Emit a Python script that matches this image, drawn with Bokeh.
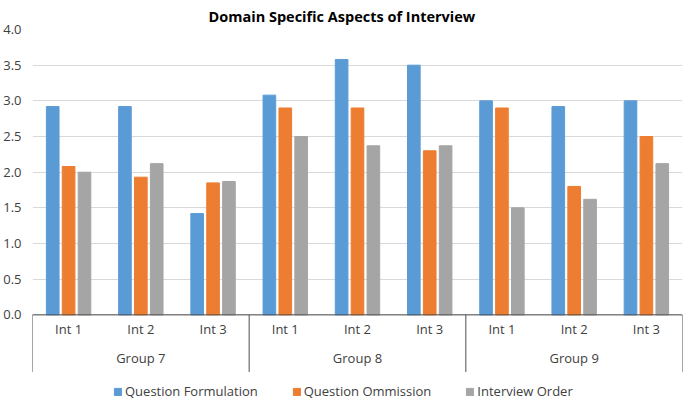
from bokeh.plotting import figure
from bokeh.models import (ColumnDataSource, FactorRange, Range1d, FixedTicker, Legend,
                          LegendItem, NumeralTickFormatter)
from bokeh.transform import dodge
from bokeh.core.properties import value
from bokeh.embed import file_html
from bokeh.resources import INLINE

# ---- data ----
groups = ["Group 7", "Group 8", "Group 9"]
interviews = ["Int 1", "Int 2", "Int 3"]
question_formulation = [2.92, 2.92, 1.42, 3.08, 3.58, 3.50, 3.00, 2.92, 3.00]
question_ommission = [2.08, 1.93, 1.85, 2.90, 2.90, 2.30, 2.90, 1.80, 2.50]
interview_order = [2.00, 2.12, 1.87, 2.50, 2.37, 2.37, 1.50, 1.62, 2.12]
y_ticks = [0.0, 0.5, 1.0, 1.5, 2.0, 2.5, 3.0, 3.5, 4.0]
series_names = ["Question Formulation", "Question Ommission", "Interview Order"]
colors = ["#5B9BD5", "#ED7D31", "#A5A5A5"]

FONT = "Open Sans"

factors = [(g, i) for g in groups for i in interviews]
source = ColumnDataSource(dict(
    x=factors,
    qf=question_formulation,
    qo=question_ommission,
    io=interview_order,
    int_label=[f[1] for f in factors],
))

x_range = FactorRange(*factors, group_padding=0, factor_padding=0, range_padding=0)

p = figure(width=685, height=400, x_range=x_range, y_range=Range1d(-1.2, 4.0),
           x_axis_location=None,
           output_backend="svg", toolbar_location=None,
           min_border_top=27, min_border_left=31, min_border_right=3, min_border_bottom=0)

p.title.text = "Domain Specific Aspects of Interview"
p.title.align = "left"
p.title.offset = 176
p.title.text_font = FONT
p.title.text_font_size = "14.5px"
p.title.text_font_style = "bold"
p.title.text_color = "#000000"
p.title.standoff = 8

p.outline_line_color = None
p.background_fill_color = "white"
p.xgrid.grid_line_color = None

p.yaxis.ticker = FixedTicker(ticks=y_ticks)
p.yaxis.axis_line_color = None
p.yaxis.major_tick_line_color = None
p.yaxis.minor_tick_line_color = None
p.yaxis.major_label_text_font = FONT
p.yaxis.major_label_text_font_size = "13px"
p.yaxis.major_label_text_color = "#404040"
p.yaxis.major_label_standoff = 5
p.yaxis.formatter = NumeralTickFormatter(format="0.0")
p.ygrid.ticker = FixedTicker(ticks=y_ticks)
p.ygrid.grid_line_color = "#D9D9D9"

offsets = [-0.22, 0.0, 0.22]
cols = ["qf", "qo", "io"]
items = []
for col, off, c, name in zip(cols, offsets, colors, series_names):
    r = p.vbar(x=dodge("x", off, range=p.x_range), top=col, width=0.175, source=source,
               fill_color=c, line_color=c)
    items.append(LegendItem(label=name, renderers=[r]))

# category axis drawn as box
edge_src = ColumnDataSource(dict(
    x=[("Group 7", "Int 1", -0.5), ("Group 8", "Int 1", -0.5),
       ("Group 9", "Int 1", -0.5), ("Group 9", "Int 3", 0.5)],
))
p.segment(x0="x", y0=0, x1="x", y1=-0.8, source=edge_src, line_color="#4d4d4d", line_width=1)
p.segment(x0=[("Group 7", "Int 1", -0.5)], y0=[0], x1=[("Group 9", "Int 3", 0.5)], y1=[0],
          line_color="#4d4d4d", line_width=1)

p.text(x="x", y=-0.195, text="int_label", source=source, text_align="center",
       text_baseline="middle", text_font=value(FONT), text_font_size="13px",
       text_color="#404040")
grp_src = ColumnDataSource(dict(x=groups, label=groups))
p.text(x="x", y=-0.6, text="label", source=grp_src, text_align="center",
       text_baseline="middle", text_font=value(FONT), text_font_size="13px",
       text_color="#404040")

legend = Legend(items=items, orientation="horizontal", location=(81, 0),
                border_line_color=None, background_fill_alpha=0,
                label_text_font=FONT, label_text_font_size="13px",
                label_text_color="#404040", glyph_width=9, glyph_height=9,
                label_standoff=3, spacing=34, padding=0, margin=0, label_height=14)
p.add_layout(legend)

open("out.html", "w").write(file_html(p, INLINE))
